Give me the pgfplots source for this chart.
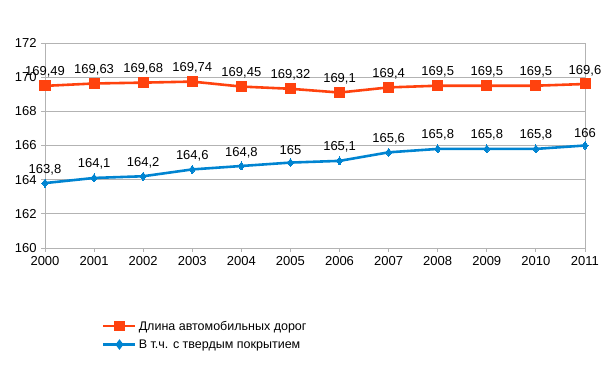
\documentclass[border=0pt]{standalone}
\usepackage{fontspec}
\setmainfont{Liberation Sans}
\usepackage{pgfplots}
\pgfplotsset{compat=1.18}
\definecolor{ored}{HTML}{FF420E}
\definecolor{bblue}{HTML}{0084D1}
\definecolor{gridg}{HTML}{B3B3B3}
\begin{document}
\begin{tikzpicture}
\path[use as bounding box] (0,0) rectangle (605bp,383bp);
\begin{axis}[
  at={(45bp,135bp)}, anchor=south west,
  scale only axis, width=540bp, height=205bp,
  xmin=2000, xmax=2011, ymin=160, ymax=172,
  xtick={2000,...,2011}, ytick={160,162,...,172},
  ymajorgrids, grid style={gridg, line width=0.8pt},
  axis line style={gridg, line width=0.8pt},
  tick style={gridg, line width=0.8pt},
  xtick pos=bottom, ytick pos=left,
  extra x ticks={2011}, extra x tick labels={}, extra x tick style={xmajorgrids, major tick length=0pt},
  major tick length=4bp,
  xtick align=outside, ytick align=outside,
  tick label style={font=\fontsize{13bp}{15bp}\selectfont, text=black},
  /pgf/number format/assume math mode=true,
  xticklabel style={/pgf/number format/set thousands separator={}, yshift=-1bp},
  yticklabel style={xshift=-1bp},
  nodes near coords,
  nodes near coords style={font=\fontsize{13bp}{15bp}\selectfont, text=black, yshift=5bp,
     /pgf/number format/use comma, /pgf/number format/precision=2,
     /pgf/number format/assume math mode=true, /pgf/number format/set thousands separator={}},
  legend style={at={(0.1,-0.335)}, anchor=north west, draw=none, fill=none,
     font=\fontsize{12.5bp}{15bp}\selectfont, row sep=4bp},
  legend cell align=left,
  legend image code/.code={\draw[mark repeat=2, mark phase=2, #1, mark options={scale=0.8}] plot coordinates {(0bp,0bp)(16bp,0bp)(32bp,0bp)};},
  clip=false,
]
\addplot[ored, line width=2.6pt, mark=square*, mark size=5bp, mark options={line width=0pt}] coordinates {
(2000,169.49)(2001,169.63)(2002,169.68)(2003,169.74)(2004,169.45)(2005,169.32)
(2006,169.1)(2007,169.4)(2008,169.5)(2009,169.5)(2010,169.5)(2011,169.6)};
\addlegendentry{Длина автомобильных дорог}
\addplot[bblue, line width=2.6pt, mark=diamond*, mark size=4bp, mark options={line width=0pt}] coordinates {
(2000,163.8)(2001,164.1)(2002,164.2)(2003,164.6)(2004,164.8)(2005,165)
(2006,165.1)(2007,165.6)(2008,165.8)(2009,165.8)(2010,165.8)(2011,166)};
\addlegendentry{В т.ч. с твердым покрытием}
\end{axis}
\end{tikzpicture}
\end{document}
